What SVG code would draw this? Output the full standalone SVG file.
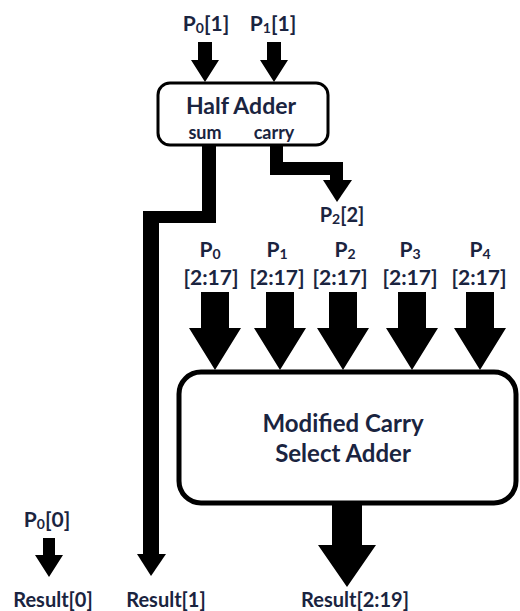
<svg xmlns="http://www.w3.org/2000/svg" width="520" height="611" viewBox="0 0 520 611">
<style>
text{font-family:Lato,"Liberation Sans",sans-serif;font-weight:bold;fill:#1a2440;text-anchor:middle}
.lbl{font-size:21px}
.sm{font-size:18px}
.res{font-size:20px}
.ha{font-size:23px}
.big{font-size:24px}
.sub{font-size:14px}
.box{fill:#fff;stroke:#000}
.arr{fill:#000}
</style>
<rect width="520" height="611" fill="#fff"/>
<g id="connectors">
<polygon class="arr" points="198,42 212,42 212,60 219,60 205,82 191,60 198,60"/>
<polygon class="arr" points="267,42 281,42 281,60 288,60 274,82 260,60 267,60"/>
<polygon class="arr" points="202,144 216,144 216,223 159,223 159,556 143,556 143,211 202,211"/>
<polygon class="arr" points="137,554 166,554 151,576"/>
<polygon class="arr" points="270,144 283,144 283,162 343,162 343,181 330,181 330,175 270,175"/>
<polygon class="arr" points="323,180 352,180 337,202"/>
<polygon class="arr" points="201,292 229,292 229,328 241,328 215,370 189,328 201,328"/>
<polygon class="arr" points="266,292 294,292 294,328 306,328 280,370 254,328 266,328"/>
<polygon class="arr" points="329,292 357,292 357,328 369,328 343,370 317,328 329,328"/>
<polygon class="arr" points="398,292 426,292 426,328 438,328 412,370 386,328 398,328"/>
<polygon class="arr" points="466,292 494,292 494,328 506,328 480,370 454,328 466,328"/>
<polygon class="arr" points="332,503 362,503 362,545 376,545 347,587 318,545 332,545"/>
<polygon class="arr" points="43,538 55,538 55,555 63,555 49,577 35,555 43,555"/>
</g>
<g id="half-adder">
<rect class="box" x="158" y="83" width="170" height="62" rx="12" stroke-width="3"/>
<text class="ha" x="241" y="114">Half Adder</text>
<text class="sm" x="205" y="139">sum</text>
<text class="sm" x="274" y="139">carry</text>
</g>
<g id="mcsa">
<rect class="box" x="179" y="372" width="337" height="131" rx="22" stroke-width="5"/>
<text class="big" x="343" y="432">Modified Carry</text>
<text class="big" x="343" y="462">Select Adder</text>
</g>
<g id="labels">
<text class="lbl" x="206" y="31">P<tspan class="sub" dy="2">0</tspan><tspan dy="-2">[1]</tspan></text>
<text class="lbl" x="273" y="31">P<tspan class="sub" dy="2">1</tspan><tspan dy="-2">[1]</tspan></text>
<text class="res" x="342" y="222">P<tspan class="sub" dy="2">2</tspan><tspan dy="-2">[2]</tspan></text>
<text class="lbl" x="210" y="257">P<tspan class="sub" dy="2">0</tspan></text>
<text class="lbl" x="277" y="257">P<tspan class="sub" dy="2">1</tspan></text>
<text class="lbl" x="345" y="257">P<tspan class="sub" dy="2">2</tspan></text>
<text class="lbl" x="410" y="257">P<tspan class="sub" dy="2">3</tspan></text>
<text class="lbl" x="480" y="257">P<tspan class="sub" dy="2">4</tspan></text>
<text class="lbl" x="211" y="285">[2:17]</text>
<text class="lbl" x="277" y="285">[2:17]</text>
<text class="lbl" x="340" y="285">[2:17]</text>
<text class="lbl" x="410" y="285">[2:17]</text>
<text class="lbl" x="479" y="285">[2:17]</text>
<text class="lbl" x="47" y="527">P<tspan class="sub" dy="2">0</tspan><tspan dy="-2">[0]</tspan></text>
<text class="res" x="53" y="607">Result[0]</text>
<text class="res" x="166" y="607">Result[1]</text>
<text class="res" x="355" y="607">Result[2:19]</text>
</g>
</svg>
